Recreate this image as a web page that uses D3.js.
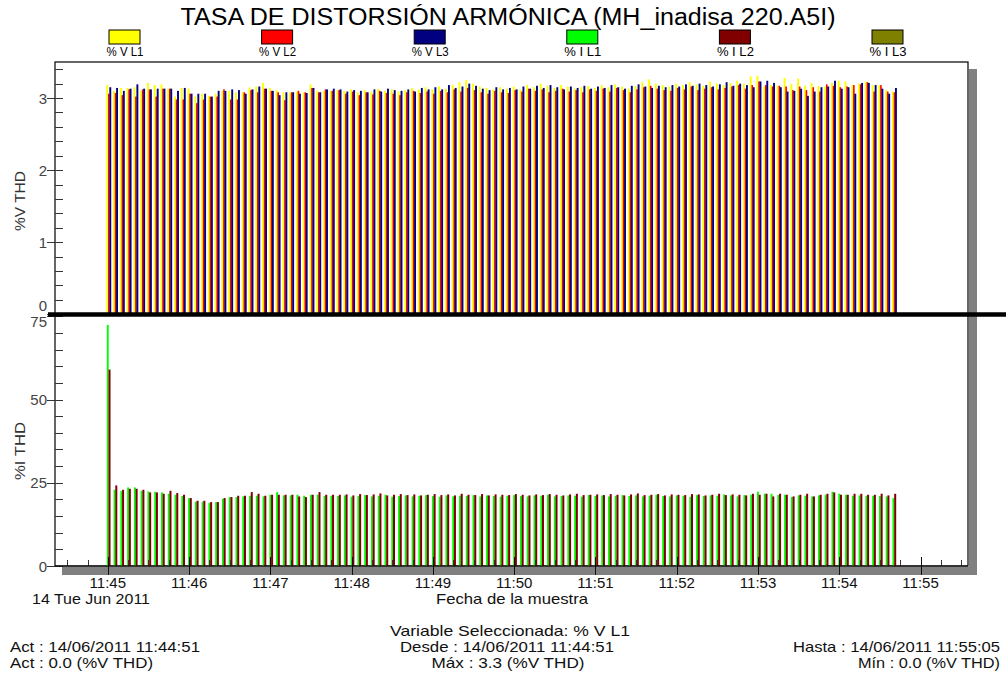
<!DOCTYPE html>
<html><head><meta charset="utf-8">
<script src="https://cdn.jsdelivr.net/npm/d3@7"></script>
<style>
html,body{margin:0;padding:0;background:#fff;}
text{font-family:"Liberation Sans",Arial,sans-serif;}
</style></head>
<body><svg id="c" width="1006" height="675"></svg>
<script>
// ---------- DATA ----------
const chartTitle = "TASA DE DISTORSIÓN ARMÓNICA (MH_inadisa 220.A5I)";
const seriesNames = ["% V L1","% V L2","% V L3","% I L1","% I L2","% I L3"];
const seriesColors = ["#FFFF00","#FF0000","#000080","#00FF00","#800000","#808000"];
const xTickLabels = ["11:45","11:46","11:47","11:48","11:49","11:50","11:51","11:52","11:53","11:54","11:55"];
const vTicks = [0,1,2,3];
const iTicks = [0,25,50,75];
// sample timestamps (14 Jun 2011)
const sampleTimes = [
"11:45:00","11:45:05","11:45:10","11:45:15","11:45:20","11:45:25","11:45:30","11:45:35","11:45:40","11:45:45","11:45:50","11:45:55",
"11:46:00","11:46:05","11:46:10","11:46:15","11:46:20","11:46:25","11:46:30","11:46:35","11:46:40","11:46:45","11:46:50","11:46:55",
"11:47:00","11:47:05","11:47:10","11:47:15","11:47:20","11:47:25","11:47:30","11:47:35","11:47:40","11:47:45","11:47:50","11:47:55",
"11:48:00","11:48:05","11:48:10","11:48:15","11:48:20","11:48:25","11:48:30","11:48:35","11:48:40","11:48:45","11:48:50","11:48:55",
"11:49:00","11:49:05","11:49:10","11:49:15","11:49:20","11:49:25","11:49:30","11:49:35","11:49:40","11:49:45","11:49:50","11:49:55",
"11:50:00","11:50:05","11:50:10","11:50:15","11:50:20","11:50:25","11:50:30","11:50:35","11:50:40","11:50:45","11:50:50","11:50:55",
"11:51:00","11:51:05","11:51:10","11:51:15","11:51:20","11:51:25","11:51:30","11:51:35","11:51:40","11:51:45","11:51:50","11:51:55",
"11:52:00","11:52:05","11:52:10","11:52:15","11:52:20","11:52:25","11:52:30","11:52:35","11:52:40","11:52:45","11:52:50","11:52:55",
"11:53:00","11:53:05","11:53:10","11:53:15","11:53:20","11:53:25","11:53:30","11:53:35","11:53:40","11:53:45","11:53:50","11:53:55",
"11:54:00","11:54:05","11:54:10","11:54:15","11:54:20","11:54:25","11:54:30","11:54:35","11:54:40"];

const vL1 = [3.18,3.10,3.14,3.14,3.15,3.10,3.21,3.18,3.19,3.13,3.02,3.14,
3.13,3.02,3.06,3.03,3.06,3.10,3.10,3.08,3.08,3.15,3.16,3.21,
3.14,3.11,3.08,3.08,3.09,3.08,3.19,3.10,3.10,3.10,3.11,3.10,
3.12,3.08,3.11,3.09,3.13,3.10,3.12,3.09,3.11,3.14,3.12,3.15,
3.12,3.16,3.13,3.18,3.22,3.25,3.20,3.16,3.14,3.12,3.15,3.13,
3.16,3.12,3.18,3.15,3.20,3.17,3.14,3.18,3.16,3.13,3.15,3.17,
3.14,3.18,3.15,3.19,3.16,3.13,3.17,3.22,3.26,3.20,3.18,3.16,
3.20,3.18,3.22,3.19,3.17,3.23,3.20,3.18,3.21,3.24,3.20,3.30,
3.31,3.16,3.18,3.17,3.28,3.20,3.27,3.17,3.21,3.17,3.16,3.21,
3.24,3.23,3.18,3.20,3.23,3.18,3.18,3.11,3.09];
const vL2 = [3.06,3.07,3.04,3.12,3.02,3.12,3.12,3.02,3.13,3.13,2.98,2.98,
3.06,2.93,2.98,3.02,3.02,3.12,2.98,2.98,3.08,3.11,3.08,3.13,
3.10,3.08,2.97,3.08,3.10,3.08,3.14,3.08,3.12,3.10,3.11,3.06,
3.09,3.04,3.08,3.05,3.10,3.07,3.06,3.04,3.08,3.10,3.07,3.09,
3.06,3.10,3.08,3.12,3.09,3.14,3.11,3.08,3.06,3.10,3.08,3.07,
3.11,3.09,3.13,3.10,3.12,3.08,3.10,3.13,3.09,3.11,3.08,3.12,
3.10,3.13,3.09,3.14,3.11,3.08,3.12,3.15,3.17,3.13,3.11,3.10,
3.14,3.12,3.16,3.11,3.13,3.15,3.12,3.14,3.16,3.18,3.13,3.18,
3.23,3.18,3.16,3.17,3.16,3.11,3.16,3.11,3.15,3.09,3.19,3.17,
3.15,3.16,3.18,3.19,3.22,3.09,3.18,3.09,3.08];
const vL3 = [3.15,3.14,3.10,3.13,3.19,3.13,3.12,3.13,3.13,3.13,3.10,3.14,
3.06,3.06,3.06,3.02,3.10,3.10,3.12,3.11,3.06,3.12,3.16,3.13,
3.10,3.04,3.08,3.08,3.06,3.07,3.14,3.08,3.12,3.13,3.12,3.09,
3.11,3.10,3.08,3.12,3.09,3.13,3.11,3.10,3.12,3.09,3.14,3.12,
3.15,3.12,3.18,3.14,3.16,3.20,3.17,3.13,3.11,3.15,3.12,3.14,
3.12,3.16,3.13,3.17,3.14,3.18,3.15,3.12,3.16,3.14,3.17,3.13,
3.16,3.14,3.18,3.15,3.13,3.17,3.19,3.16,3.14,3.17,3.15,3.18,
3.16,3.19,3.17,3.20,3.18,3.16,3.19,3.22,3.17,3.20,3.18,3.15,
3.23,3.24,3.21,3.15,3.09,3.10,3.13,3.03,3.09,3.15,3.16,3.24,
3.13,3.15,3.06,3.21,3.21,3.18,3.13,3.06,3.14];
const iL1 = [72.4,22.9,22.5,23.6,23.6,22.6,22.4,22.3,22.1,21.7,21.4,21.0,
20.4,19.3,19.3,18.9,19.2,20.2,20.7,20.7,20.9,21.1,21.1,20.9,
21.4,22.2,21.2,21.2,21.4,21.1,21.4,21.4,21.0,21.1,21.0,21.2,
20.8,21.0,21.3,20.9,21.1,21.4,20.8,21.0,21.2,20.9,21.1,21.3,
21.0,20.8,21.2,20.9,21.1,21.0,21.3,20.9,21.2,21.0,20.8,21.1,
21.3,21.0,20.9,21.2,21.1,21.4,20.9,21.0,21.2,21.1,20.8,21.3,
21.0,21.2,20.9,21.1,21.3,21.0,21.2,20.9,21.1,21.4,21.0,20.9,
21.2,21.1,20.8,21.3,21.0,21.2,21.1,21.5,21.2,20.9,21.3,21.4,
22.3,21.7,21.7,21.3,21.4,20.7,21.2,21.1,20.9,21.2,21.4,22.3,
21.7,21.4,21.1,21.2,21.1,21.1,21.0,20.9,20.4];
const iL2 = [59.0,24.2,22.9,23.2,23.2,22.9,22.1,22.1,21.7,22.6,21.9,21.4,
20.4,19.6,19.6,19.2,19.2,20.4,20.7,21.1,21.1,22.2,21.7,21.1,
21.4,21.4,21.4,21.4,20.9,20.7,21.4,22.2,21.4,21.4,21.4,21.5,
21.2,21.6,21.3,21.5,21.8,21.2,21.4,21.6,21.3,21.5,21.2,21.4,
21.6,21.3,21.5,21.2,21.7,21.4,21.3,21.6,21.2,21.5,21.4,21.3,
21.6,21.4,21.2,21.5,21.3,21.6,21.4,21.2,21.5,21.7,21.3,21.4,
21.5,21.3,21.6,21.4,21.2,21.5,21.8,21.3,21.4,21.6,21.2,21.5,
21.4,21.3,21.6,21.5,21.2,21.4,21.7,21.3,21.5,21.4,21.2,21.7,
21.4,21.7,20.9,21.7,21.4,20.9,21.4,21.7,20.9,21.4,21.7,22.1,
21.4,21.4,21.7,21.7,21.4,21.4,21.7,21.2,21.7];

// ---------- LAYOUT ----------
const svg = d3.select("#c");
const parse = d3.timeParse("%Y-%m-%d %H:%M:%S");
const times = sampleTimes.map(s => parse("2011-06-14 " + s));
const L = 55, R = 968, TOP = 62, MID = 314.3, MID2 = 316.3, BOT = 566;

const x = d3.scaleTime()
  .domain([parse("2011-06-14 11:44:21"), parse("2011-06-14 11:55:35")])
  .range([L, R]);
const yV = d3.scaleLinear().domain([0, 3.5]).range([MID, TOP]);
const yI = d3.scaleLinear().domain([0, 75]).range([BOT, MID2]);

function txt(s, xx, yy, anchor, size, len, fill) {
  const t = svg.append("text").attr("x", xx).attr("y", yy).attr("text-anchor", anchor)
    .attr("font-size", size).attr("fill", fill || "#111").text(s);
  if (len) t.attr("textLength", len).attr("lengthAdjust", "spacingAndGlyphs");
  return t;
}

// shadow
svg.append("rect").attr("x", R+1).attr("y", 69).attr("width", 8).attr("height", BOT+9-69).attr("fill", "#808080");
svg.append("rect").attr("x", 62).attr("y", BOT+1).attr("width", R+9-62).attr("height", 8).attr("fill", "#808080");
// frame
svg.append("rect").attr("x", L).attr("y", TOP).attr("width", R-L).attr("height", BOT-TOP)
  .attr("fill", "#fff").attr("stroke", "#000").attr("stroke-width", 1.2);

// title
txt(chartTitle, 508, 25, "middle", 23, 655, "#000");

// legend
seriesNames.forEach((n, i) => {
  const cx = 125 + i * 152.6;
  svg.append("rect").attr("x", cx - 16).attr("y", 30).attr("width", 31).attr("height", 14)
    .attr("fill", seriesColors[i]).attr("stroke", "#000").attr("stroke-width", 1);
  txt(n, cx, 56, "middle", 13, 37, "#000");
});

// bars top
const vSeries = [vL1, vL2, vL3];
const vOff = [[-1.5, 1.9], [0.2, 1.6], [1.5, 1.9]];
vSeries.forEach((arr, k) => {
  svg.append("g").selectAll("rect").data(arr).join("rect")
    .attr("x", (d, i) => x(times[i]) + vOff[k][0])
    .attr("width", vOff[k][1])
    .attr("y", d => yV(d))
    .attr("height", d => yV(0) - yV(d))
    .attr("fill", seriesColors[k]);
});
const iSeries = [iL1, iL2];
const iOff = [[-1.0, 1.9], [0.7, 2.0]];
iSeries.forEach((arr, k) => {
  svg.append("g").selectAll("rect").data(arr).join("rect")
    .attr("x", (d, i) => x(times[i]) + iOff[k][0])
    .attr("width", iOff[k][1])
    .attr("y", d => yI(d))
    .attr("height", d => yI(0) - yI(d))
    .attr("fill", seriesColors[3 + k]);
});

// y axes: major + minor ticks
function yAxis(scale, ticks, minorStep, label, cy, labelLen, dyFn) {
  const g = svg.append("g");
  const dom = scale.domain();
  const minor = d3.range(dom[0], dom[1] + 1e-9, minorStep);
  g.selectAll(".mn").data(minor).join("line")
    .attr("x1", L).attr("x2", L + 8)
    .attr("y1", d => Math.round(scale(d)) + 0.5).attr("y2", d => Math.round(scale(d)) + 0.5)
    .attr("stroke", "#333").attr("stroke-width", 1);
  g.selectAll(".mj").data(ticks).join("line")
    .attr("x1", L - 8).attr("x2", L + 8)
    .attr("y1", d => Math.round(scale(d)) + 0.5).attr("y2", d => Math.round(scale(d)) + 0.5)
    .attr("stroke", "#333").attr("stroke-width", 1);
  g.selectAll("text").data(ticks).join("text")
    .attr("x", L - 8).attr("y", d => scale(d) + dyFn(d))
    .attr("text-anchor", "end").attr("font-size", 15).attr("fill", "#444")
    .text(d => d);
  svg.append("text").attr("transform", `translate(25,${cy}) rotate(-90)`)
    .attr("text-anchor", "middle").attr("font-size", 15).attr("fill", "#333")
    .attr("textLength", labelLen).attr("lengthAdjust", "spacingAndGlyphs").text(label);
}
yAxis(yV, vTicks, 0.2, "%V THD", 201, 60, d => d === 0 ? -3.5 : 5.5);
yAxis(yI, iTicks, 5, "%I THD", 451, 58, d => d === 75 ? 11 : 5.5);

// separator thick line
svg.append("line").attr("x1", 48).attr("x2", 1006).attr("y1", 314.5).attr("y2", 314.5)
  .attr("stroke", "#000").attr("stroke-width", 4.5);

// x axis
const xMajor = xTickLabels.map(s => parse("2011-06-14 " + s + ":00"));
const xMinor = d3.timeSecond.every(15).range(x.domain()[0], x.domain()[1]);
svg.append("g").selectAll("line").data(xMinor).join("line")
  .attr("x1", d => Math.round(x(d)) + 0.5).attr("x2", d => Math.round(x(d)) + 0.5)
  .attr("y1", BOT - 6).attr("y2", BOT).attr("stroke", "#333");
svg.append("g").selectAll("line").data(xMajor).join("line")
  .attr("x1", d => Math.round(x(d)) + 0.5).attr("x2", d => Math.round(x(d)) + 0.5)
  .attr("y1", BOT - 9).attr("y2", BOT + 9).attr("stroke", "#111");
svg.append("g").selectAll("text").data(xMajor).join("text")
  .attr("x", d => x(d)).attr("y", 588).attr("text-anchor", "middle")
  .attr("font-size", 15).attr("fill", "#111").text((d, i) => xTickLabels[i]);
svg.append("line").attr("x1", L).attr("x2", R).attr("y1", BOT).attr("y2", BOT).attr("stroke", "#000").attr("stroke-width", 1.2);

txt("14 Tue Jun 2011", 91, 604, "middle", 14.5, 118);
txt("Fecha de la muestra", 512, 604, "middle", 14.5, 152);

// footer
const foot = [
  ["Variable Seleccionada: % V L1", 510, 636, "middle", 240],
  ["Act : 14/06/2011 11:44:51", 10, 652, "start", 190],
  ["Desde : 14/06/2011 11:44:51", 507, 652, "middle", 214],
  ["Hasta : 14/06/2011 11:55:05", 1000, 652, "end", 207],
  ["Act : 0.0 (%V THD)", 10, 668, "start", 143],
  ["Máx : 3.3 (%V THD)", 508, 668, "middle", 153],
  ["Mín : 0.0 (%V THD)", 1000, 668, "end", 142]
];
foot.forEach(f => txt(f[0], f[1], f[2], f[3], 14.5, f[4]));
</script></body></html>
